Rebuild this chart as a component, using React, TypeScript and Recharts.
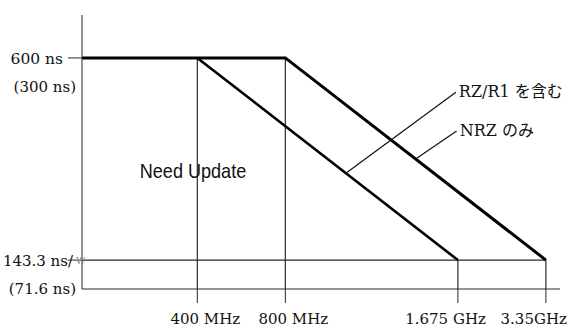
import { ComposedChart, Line, XAxis, YAxis, ReferenceLine, ReferenceDot } from 'recharts';

// frequency axis is drawn schematically (not to scale): slot = place of each mark on it
const freqLabels = ['400 MHz', '800 MHz', '1.675 GHz', '3.35GHz'];
const freqSlot = [1.31, 2.31, 4.27, 5.27];
const slotMax = 5.43;

const delayTicks = [600, 143.3];
const delayLabels = ['600 ns', '143.3 ns/'];
const delayAltLabels = ['(300 ns)', '(71.6 ns)'];
const delayMin = 78;
const delayMax = 697;

// RZ/R1 edge: starts falling at 400 MHz, reaches the floor at 1.675 GHz
const rzData = [
    { slot: freqSlot[0], ns: delayTicks[0] },
    { slot: freqSlot[2], ns: delayTicks[1] },
];
// NRZ edge: flat up to 800 MHz, reaches the floor at 3.35 GHz
const nrzData = [
    { slot: 0, ns: delayTicks[0] },
    { slot: freqSlot[1], ns: delayTicks[0] },
    { slot: freqSlot[3], ns: delayTicks[1] },
];

const callouts = [
    { label: 'RZ/R1 を含む', a: rzData[0], b: rzData[1], t: 0.57, dx: 110, dy: -81 },
    { label: 'NRZ のみ', a: nrzData[1], b: nrzData[2], t: 0.5, dx: 41, dy: -28 },
];

const SERIF = "'DejaVu Serif', 'Noto Sans CJK JP', serif";
const INK = '#2a2a2a';
const tickAnchor = ['middle', 'middle', 'end', 'end'];
const tickDx = [8, 8, 28, 21];

const FreqTick = (props: any) => {
    const { x, y, index } = props;
    return (
        <text x={x + tickDx[index]} y={y + 14} textAnchor={tickAnchor[index]} dominantBaseline="central"
            fontFamily={SERIF} fontSize={15} fill="#111">
            {freqLabels[index]}
        </text>
    );
};

const DelayTick = (props: any) => {
    const { x, y, index } = props;
    const last = index === delayTicks.length - 1;
    return (
        <g fontFamily={SERIF} fontSize={15} fill="#111">
            <text x={last ? x + 7 : x - 3} y={y + 1} textAnchor="end" dominantBaseline="central" fontSize={last ? 15 : 15.5}>
                {delayLabels[index]}
            </text>
            {last && (
                <text x={x + 10} y={y + 1} dominantBaseline="central" fontSize={9} fill="#888">W</text>
            )}
            <text x={x + 10} y={y + 29} textAnchor="end" dominantBaseline="central">
                {delayAltLabels[index]}
            </text>
        </g>
    );
};

const App = () => {
    return (
        <div style={{ position: 'absolute', left: 0, top: 0, width: 567, height: 327, background: '#fff' }}>
            <ComposedChart width={567} height={327} margin={{ top: 15, right: 7, bottom: 0, left: 0 }}>
                <XAxis dataKey="slot" type="number" domain={[0, slotMax]} ticks={freqSlot} height={38}
                    tickSize={14} stroke={INK} tick={<FreqTick />} allowDataOverflow />
                <YAxis type="number" domain={[delayMin, delayMax]} ticks={delayTicks} width={82}
                    tickSize={14} stroke={INK} tick={<DelayTick />} allowDataOverflow />

                <ReferenceLine segment={[{ x: 0, y: delayTicks[1] }, { x: freqSlot[3], y: delayTicks[1] }]} stroke={INK} strokeWidth={1.2} />
                {freqSlot.map((s, i) => (
                    <ReferenceLine key={i} segment={[{ x: s, y: i < 2 ? delayTicks[0] : delayTicks[1] }, { x: s, y: delayMin }]}
                        stroke={INK} strokeWidth={1.2} />
                ))}

                <Line data={nrzData} dataKey="ns" type="linear" stroke="#000" strokeWidth={3} dot={false} isAnimationActive={false} />
                <Line data={rzData} dataKey="ns" type="linear" stroke="#000" strokeWidth={2.6} dot={false} isAnimationActive={false} />

                {callouts.map((c, i) => (
                    <ReferenceDot key={i} x={c.a.slot + c.t * (c.b.slot - c.a.slot)} y={c.a.ns + c.t * (c.b.ns - c.a.ns)} r={0}
                        shape={(p: any) => (
                            <g>
                                <line x1={p.cx} y1={p.cy} x2={p.cx + c.dx} y2={p.cy + c.dy} stroke="#111" strokeWidth={1.2} />
                                <text x={p.cx + c.dx + 3} y={p.cy + c.dy - 1} dominantBaseline="central"
                                    fontFamily={SERIF} fontSize={16} fill="#111">{c.label}</text>
                            </g>
                        )} />
                ))}
            </ComposedChart>
            <div style={{
                position: 'absolute', left: 193, top: 171, transform: 'translate(-50%, -50%) scaleX(0.86)',
                fontFamily: "'Liberation Sans', Arial, sans-serif", fontSize: 21, color: '#111', whiteSpace: 'nowrap',
            }}>
                Need Update
            </div>
        </div>
    );
};

export default App;
